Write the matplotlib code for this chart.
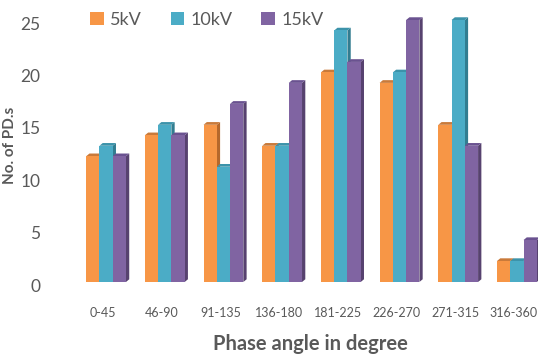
import matplotlib
matplotlib.use("Agg")
import matplotlib.pyplot as plt
from matplotlib.patches import Polygon
from matplotlib.transforms import ScaledTranslation
import numpy as np

categories = ["0-45", "46-90", "91-135", "136-180", "181-225", "226-270", "271-315", "316-360"]
series_names = ["5kV", "10kV", "15kV"]
v5 = [12, 14, 15, 13, 20, 19, 15, 2]
v10 = [13, 15, 11, 13, 24, 20, 25, 2]
v15 = [12, 14, 17, 19, 21, 25, 13, 4]
yticks = [0, 5, 10, 15, 20, 25]

front_colors = ["#F79646", "#4BACC6", "#8064A2"]
side_colors = ["#B5682C", "#327D90", "#57426F"]
top_colors = ["#C97A3A", "#3C93AA", "#6A5290"]

plt.rcParams['font.family'] = ['Lato', 'DejaVu Sans']

fig = plt.figure(figsize=(5.38, 3.56), dpi=100)
ax = fig.add_axes([82/538, 1-282/356, (538-82)/538, (282-8)/356])

x = np.arange(len(categories))
w = 0.226
dx, dy = 0.056, 0.26
series = [v5, v10, v15]
for k, vals in enumerate(series):
    xs = x + (k - 1) * w
    ax.bar(xs, vals, width=w, color=front_colors[k], label=series_names[k], zorder=3 + k * 0.01)
    for xi, v in zip(xs, vals):
        r = xi + w / 2
        l = xi - w / 2
        side = Polygon([(r, 0), (r + dx, dy), (r + dx, v + dy), (r, v)], closed=True,
                       facecolor=side_colors[k], edgecolor='none', zorder=2.9 + k * 0.01)
        top = Polygon([(l, v), (l + dx, v + dy), (r + dx, v + dy), (r, v)], closed=True,
                      facecolor=top_colors[k], edgecolor='none', zorder=2.9 + k * 0.01)
        ax.add_patch(side)
        ax.add_patch(top)

ax.set_xlim(-0.41, 7.36)
ax.set_ylim(0, 274 / 10.48)
ax.set_yticks(yticks)
ax.set_xticks(x)
ax.set_xticklabels(categories, fontsize=9, color="#595959")
ax.tick_params(axis='y', labelsize=12.5, colors="#595959", length=0, pad=30)
ax.tick_params(axis='x', length=0, pad=18)
off = ScaledTranslation(0, -3 / 100, fig.dpi_scale_trans)
for lab in ax.get_yticklabels():
    lab.set_transform(lab.get_transform() + off)
off2 = ScaledTranslation(-3 / 100, 0, fig.dpi_scale_trans)
for lab in ax.get_xticklabels():
    lab.set_transform(lab.get_transform() + off2)
for s in ax.spines.values():
    s.set_visible(False)

ax.set_ylabel("No. of PD.s", fontsize=11, fontweight='bold', color="#595959")
ax.yaxis.set_label_coords(-0.142, 0.5)
ax.set_xlabel("Phase angle in degree", fontsize=14.5, fontweight='bold', color="#595959")
ax.xaxis.set_label_coords(0.5, -0.19)

leg = ax.legend(loc='upper left', bbox_to_anchor=(-0.018, 1.045), ncol=3, frameon=False,
                fontsize=13, handlelength=0.75, handleheight=0.75, handletextpad=0.35,
                columnspacing=1.6, labelcolor="#595959")

fig.savefig("out.png", dpi=100)
